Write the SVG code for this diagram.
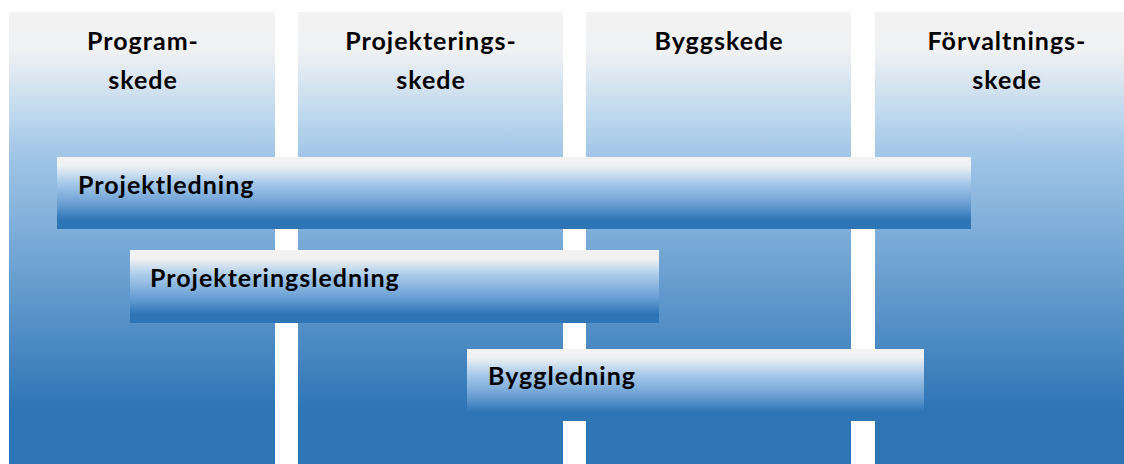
<svg xmlns="http://www.w3.org/2000/svg" width="1124" height="464" viewBox="0 0 1124 464">
  <defs>
    <!-- phase column fill: pale grey top fading to saturated blue -->
    <linearGradient id="colFill" x1="0" y1="12" x2="0" y2="464" gradientUnits="userSpaceOnUse">
      <stop offset="0" stop-color="#f2f2f2"/>
      <stop offset="0.085" stop-color="#f0f1f3"/>
      <stop offset="0.23" stop-color="#bdd7ee"/>
      <stop offset="0.33" stop-color="#9dc3e6"/>
      <stop offset="0.88" stop-color="#2e75b6"/>
      <stop offset="1" stop-color="#2e75b6"/>
    </linearGradient>
    <!-- role bar fill -->
    <linearGradient id="barFill" x1="0" y1="0" x2="0" y2="1">
      <stop offset="0" stop-color="#f2f2f2"/>
      <stop offset="0.12" stop-color="#f0f1f3"/>
      <stop offset="0.35" stop-color="#a9cbea"/>
      <stop offset="0.65" stop-color="#6a9fd3"/>
      <stop offset="0.88" stop-color="#2e75b6"/>
      <stop offset="1" stop-color="#2e75b6"/>
    </linearGradient>
    <style>
      .col { fill: url(#colFill); }
      .bar { fill: url(#barFill); }
      .lbl { font-family: Lato, "Open Sans", "Liberation Sans", sans-serif; font-weight: bold; font-size: 25px; letter-spacing: 1px; fill: #000; }
      .head { text-anchor: middle; }
    </style>
  </defs>

  <rect width="1124" height="464" fill="#ffffff"/>

  <!-- phases -->
  <g id="phase-program">
    <rect class="col" x="9" y="12" width="266" height="452"/>
    <text class="lbl head" x="143" y="50">Program-</text>
    <text class="lbl head" x="143" y="89">skede</text>
  </g>
  <g id="phase-projektering">
    <rect class="col" x="298" y="12" width="265" height="452"/>
    <text class="lbl head" x="431" y="50">Projekterings-</text>
    <text class="lbl head" x="431" y="89">skede</text>
  </g>
  <g id="phase-bygg">
    <rect class="col" x="586" y="12" width="265" height="452"/>
    <text class="lbl head" x="719" y="50">Byggskede</text>
  </g>
  <g id="phase-forvaltning">
    <rect class="col" x="875" y="12" width="265" height="452"/>
    <text class="lbl head" x="1007" y="50">Förvaltnings-</text>
    <text class="lbl head" x="1007" y="89">skede</text>
  </g>

  <!-- roles -->
  <g id="role-projektledning">
    <rect class="bar" x="57" y="157" width="914" height="72"/>
    <text class="lbl" x="78" y="194">Projektledning</text>
  </g>
  <g id="role-projekteringsledning">
    <rect class="bar" x="130" y="250" width="529" height="73"/>
    <text class="lbl" x="150" y="287">Projekteringsledning</text>
  </g>
  <g id="role-byggledning">
    <rect class="bar" x="467" y="349" width="457" height="72"/>
    <text class="lbl" x="488" y="385">Byggledning</text>
  </g>

  <g id="connectors"/>
</svg>
